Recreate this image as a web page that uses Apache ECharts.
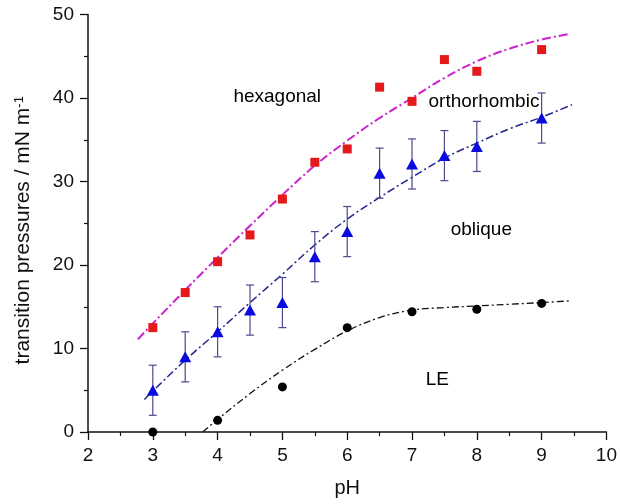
<!DOCTYPE html>
<html><head><meta charset="utf-8">
<script src="https://cdn.jsdelivr.net/npm/echarts@6/dist/echarts.min.js"></script>
<style>html,body{margin:0;padding:0;background:#fff}#c{width:620px;height:504px}</style>
</head><body><div id="c"></div>
<script>
// measured points
const pH = [3, 3.5, 4, 4.5, 5, 5.5, 6, 6.5, 7, 7.5, 8, 9];
const hexagonal = [12.5, 16.7, 20.4, 23.6, 27.9, 32.3, 33.9, 41.3, 39.6, 44.6, 43.2, 45.8];
const oblique = [5, 9, 12, 14.6, 15.5, 21, 24, 31, 32.1, 33.1, 34.2, 37.6];
const obliqueErr = [3, 3, 3, 3, 3, 3, 3, 3, 3, 3, 3, 3];
const lePH = [3, 4, 5, 6, 7, 8, 9];
const le = [0, 1.4, 5.4, 12.5, 14.4, 14.7, 15.4];
// fit curves
const hexFitPH = [2.77, 3, 3.5, 4, 4.5, 5, 5.5, 6, 6.5, 7, 7.5, 8, 8.5, 9, 9.45];
const hexFit = [11.1, 13.0, 17.0, 20.9, 24.7, 28.4, 31.9, 34.9, 37.6, 40.0, 42.4, 44.4, 45.9, 47.0, 47.7];
const oblFitPH = [2.87, 3, 3.5, 4, 4.5, 5, 5.5, 6, 6.5, 7, 7.5, 8, 8.5, 9, 9.47];
const oblFit = [3.9, 4.9, 8.6, 12.0, 15.5, 18.9, 22.4, 25.5, 28.1, 30.5, 32.8, 34.6, 36.3, 37.7, 39.2];
const leFitPH = [3.77, 4, 4.5, 5, 5.5, 6, 6.5, 7, 7.5, 8, 8.5, 9, 9.42];
const leFit = [0, 1.5, 4.6, 7.4, 9.9, 12.1, 13.7, 14.6, 14.9, 15.1, 15.3, 15.5, 15.7];
// phase region labels [pH, pressure, text]
const phaseLabels = [[4.92, 40.1, 'hexagonal'], [8.11, 39.6, 'orthorhombic'], [8.07, 24.2, 'oblique'], [7.39, 6.2, 'LE']];
// axes
const xTicks = {min: 2, max: 10, interval: 1};
const yTicks = {min: 0, max: 50, interval: 10};
const xName = 'pH';
const yName = 'transition pressures / mN m{sup|-1}';

const zip = (a, b) => a.map((v, i) => [v, b[i]]);
const FONT = 'Liberation Sans';
const INK = '#111';
const chart = echarts.init(document.getElementById('c'), null, {renderer: 'canvas'});
function axis(extra, nameSize, namePad) {
  return Object.assign({
    type: 'value',
    axisLine: {lineStyle: {color: INK, width: 1.5}},
    axisTick: {inside: false, length: 8, lineStyle: {color: INK, width: 1.3}},
    minorTick: {show: true, splitNumber: 2, length: 4, lineStyle: {color: INK, width: 1.2}},
    splitLine: {show: false},
    axisLabel: {fontFamily: FONT, fontSize: 19, color: INK, margin: 14},
    nameLocation: 'middle',
    nameTextStyle: {fontFamily: FONT, fontSize: nameSize, color: INK, padding: namePad,
      rich: {sup: {fontFamily: FONT, fontSize: 13, color: INK, verticalAlign: 'top'}}}
  }, extra);
}
chart.setOption({
  backgroundColor: '#fff',
  animation: false,
  grid: {left: 88, right: 13, top: 14.5, bottom: 72},
  xAxis: axis({min: xTicks.min, max: xTicks.max, interval: xTicks.interval, name: xName, nameGap: 46}, 20, 0),
  yAxis: axis({min: yTicks.min, max: yTicks.max, interval: yTicks.interval, name: yName, nameGap: 54}, 21, [0, 14, 0, 0]),
  series: [
    {type: 'line', data: zip(hexFitPH, hexFit), smooth: 0.4, symbol: 'none', z: 2,
      lineStyle: {color: '#cc22cc', width: 2, type: [9, 3, 2, 3]}},
    {type: 'line', data: zip(oblFitPH, oblFit), smooth: 0.4, symbol: 'none', z: 2,
      lineStyle: {color: '#25258f', width: 1.5, type: [8, 3, 2, 3]}},
    {type: 'line', data: zip(leFitPH, leFit), smooth: 0.4, symbol: 'none', z: 2,
      lineStyle: {color: '#111', width: 1.3, type: [7, 3, 2, 3]}},
    {type: 'custom', z: 3,
      data: pH.map((x, i) => [x, oblique[i] - obliqueErr[i], oblique[i] + obliqueErr[i]]),
      renderItem: function (params, api) {
        const lo = api.coord([api.value(0), api.value(1)]);
        const hi = api.coord([api.value(0), api.value(2)]);
        const w = 4;
        const st = {stroke: '#4a4a8e', lineWidth: 1.2};
        return {type: 'group', children: [
          {type: 'line', shape: {x1: lo[0], y1: lo[1], x2: hi[0], y2: hi[1]}, style: st},
          {type: 'line', shape: {x1: lo[0] - w, y1: lo[1], x2: lo[0] + w, y2: lo[1]}, style: st},
          {type: 'line', shape: {x1: hi[0] - w, y1: hi[1], x2: hi[0] + w, y2: hi[1]}, style: st}
        ]};
      }},
    {type: 'scatter', data: zip(pH, hexagonal), symbol: 'rect', symbolSize: 9, z: 5,
      itemStyle: {color: '#e3191c', opacity: 1}},
    {type: 'scatter', data: zip(pH, oblique), symbol: 'triangle', symbolSize: [12, 11], z: 5,
      itemStyle: {color: '#0a0ade', opacity: 1}},
    {type: 'scatter', data: zip(lePH, le), symbol: 'circle', symbolSize: 9, z: 5,
      itemStyle: {color: '#000', opacity: 1}},
    {type: 'scatter', data: phaseLabels.map(d => ({value: [d[0], d[1]], name: d[2]})), symbolSize: 0, z: 6,
      itemStyle: {opacity: 1},
      label: {show: true, position: 'inside', formatter: '{b}', fontFamily: FONT, fontSize: 19, color: '#000', opacity: 1}}
  ]
});
</script></body></html>
